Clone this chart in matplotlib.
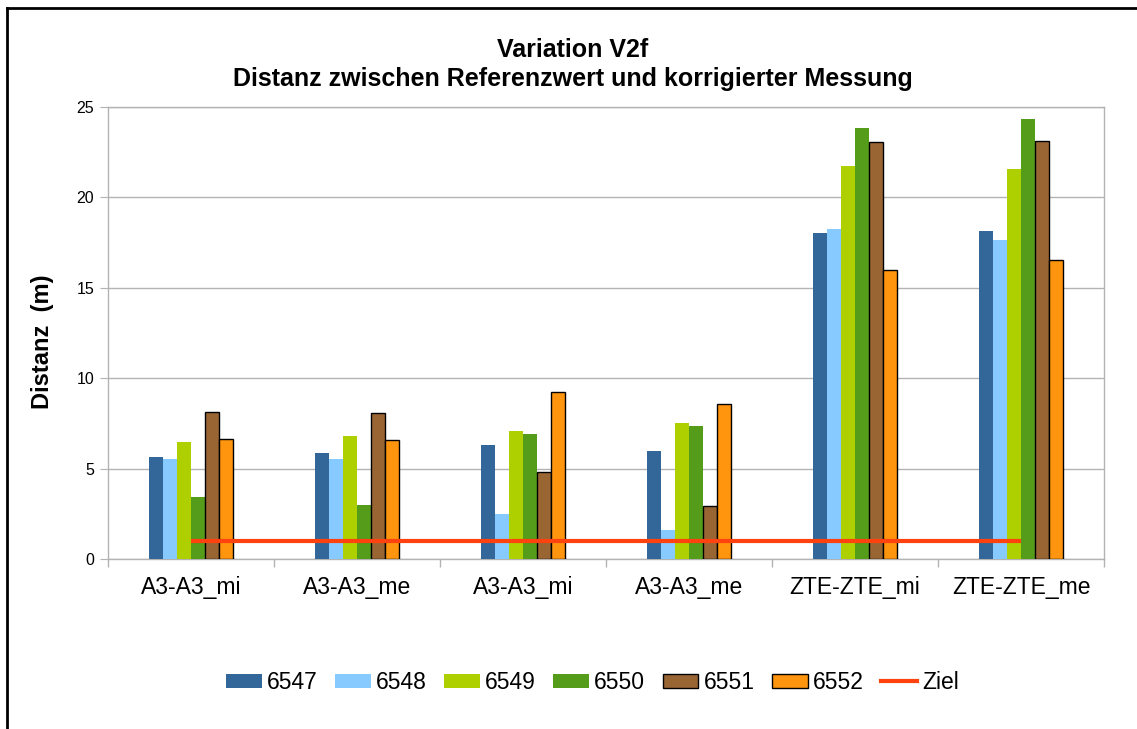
import matplotlib
matplotlib.use("Agg")
import matplotlib.pyplot as plt
import numpy as np
from matplotlib.lines import Line2D
from matplotlib.patches import Patch

plt.rcParams['font.family'] = ['Liberation Sans', 'DejaVu Sans']

categories = ["A3-A3_mi", "A3-A3_me", "A3-A3_mi", "A3-A3_me", "ZTE-ZTE_mi", "ZTE-ZTE_me"]
series_names = ["6547", "6548", "6549", "6550", "6551", "6552"]
s6547 = [5.64, 5.87, 6.31, 5.98, 18.03, 18.14]
s6548 = [5.53, 5.53, 2.49, 1.60, 18.25, 17.65]
s6549 = [6.47, 6.81, 7.08, 7.53, 21.74, 21.57]
s6550 = [3.43, 2.99, 6.92, 7.36, 23.84, 24.34]
s6551 = [8.12, 8.08, 4.80, 2.92, 23.05, 23.10]
s6552 = [6.64, 6.57, 9.22, 8.56, 16.00, 16.52]
ziel = [1, 1, 1, 1, 1, 1]
y_ticks = [0, 5, 10, 15, 20, 25]

colors = ["#336699", "#87CAFF", "#AFD000", "#559C1B", "#996633", "#FF950E"]
edged = [False, False, False, False, True, True]
series = [s6547, s6548, s6549, s6550, s6551, s6552]

fig = plt.figure(figsize=(11.37, 7.29), dpi=100)
ax = fig.add_axes([0.095, 0.2332, 0.876, 0.62])

x = np.arange(len(categories))
bw = 0.0845
offsets = (np.arange(6) - 2.5) * bw
for vals, off, c, e in zip(series, offsets, colors, edged):
    ax.bar(x + off, vals, width=bw, color=c,
           edgecolor="black" if e else "none", linewidth=1.0 if e else 0,
           zorder=3)
ax.plot(x, ziel, color="#FF420E", linewidth=3, zorder=4, solid_capstyle="butt")

ax.set_xlim(-0.5, len(categories) - 0.5)
ax.set_ylim(0, 25)
ax.set_yticks(y_ticks)
ax.set_xticks(x)
ax.set_xticklabels(categories, fontsize=16.5)
ax.set_xticks(np.arange(len(categories) + 1) - 0.5, minor=True)
ax.tick_params(axis="x", which="major", length=0, pad=12)
ax.tick_params(axis="x", which="minor", length=6, color="#b3b3b3", width=1)
ax.tick_params(axis="y", length=6, color="#b3b3b3", labelsize=11.5, pad=4)
ax.yaxis.grid(True, color="#b3b3b3", linewidth=1, zorder=0)
ax.set_axisbelow(True)
for sp in ax.spines.values():
    sp.set_color("#b3b3b3")
    sp.set_linewidth(1)

ax.set_ylabel("Distanz  (m)", fontsize=17, fontweight="bold")
ax.yaxis.set_label_coords((54 - 108) / 996, (559 - 342) / 452)
fig.text(0.504, 0.9115, "Variation V2f\nDistanz zwischen Referenzwert und korrigierter Messung",
         ha="center", va="center", fontsize=18, fontweight="bold", linespacing=1.22)

handles = []
for name, c, e in zip(series_names, colors, edged):
    handles.append(Patch(facecolor=c, edgecolor="black" if e else c,
                         linewidth=1 if e else 0, label=name))
handles.append(Line2D([0], [0], color="#FF420E", linewidth=3, label="Ziel"))
fig.legend(handles=handles, loc="center", bbox_to_anchor=(0.521, 0.064), ncol=7,
           frameon=False, fontsize=16.5, handlelength=1.57, handleheight=0.55,
           handletextpad=0.22, columnspacing=0.75, borderpad=0)

# outer frame (left and top edges)
fig.add_artist(Line2D([0.0062, 0.0062], [0, 0.989], color="black", linewidth=2,
                      transform=fig.transFigure))
fig.add_artist(Line2D([0.0062, 1.0], [0.989, 0.989], color="black", linewidth=2,
                      transform=fig.transFigure))

fig.savefig("out.png", dpi=100, facecolor="white")
